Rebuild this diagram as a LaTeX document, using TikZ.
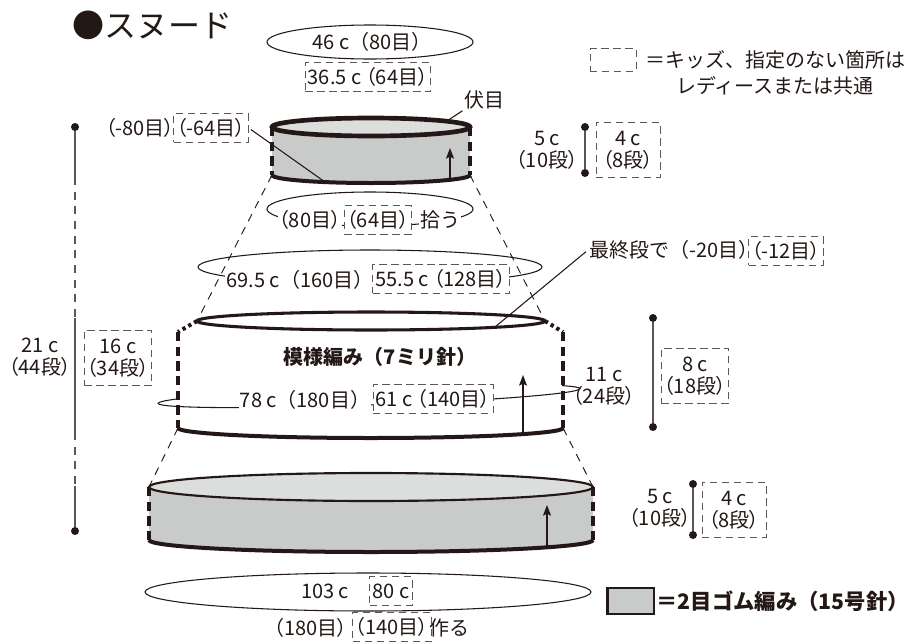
\documentclass[tikz,border=0pt]{standalone}
\usepackage{fontspec}
\setmainfont{Noto Sans CJK JP}
\newfontfamily\jpp[RawFeature=+palt]{Noto Sans CJK JP}
\usetikzlibrary{arrows.meta}
\newcommand\taille{\fontsize{15}{16.5}\selectfont}
\definecolor{encre}{HTML}{231815}
\definecolor{gris}{HTML}{C9CACA}
\definecolor{grisclair}{HTML}{DCDDDD}
\definecolor{grisk}{HTML}{595757}
\definecolor{grisc}{HTML}{595757}
\tikzset{
	etiq/.style = {align=center, inner sep=1pt, text=encre, font=\taille},% texte
	etiq_b/.style = {etiq, fill=white},% texte pose sur un fil
	cote_t/.style = {etiq, font=\jpp\taille},% texte de cote
	kids/.style = {cote_t, draw=grisk, line width=0.75pt,
		dash pattern=on 5.5pt off 3.5pt, inner xsep=2pt, minimum height=21.5pt},% boite kids
	kids2/.style = {kids, minimum width=48pt, minimum height=41.5pt},% boite kids, 2 lignes
	bord/.style = {draw=encre, line width=3pt},% bord epais
	flanc/.style = {draw=encre, line width=3.5pt, dash pattern=on 7pt off 4pt},% cote de bande
	flanc_p/.style = {draw=encre, line width=3pt, dash pattern=on 2.5pt off 2.5pt},% pointilles
	fil/.style = {draw=encre, line width=0.8pt},% trait fin
	guide/.style = {draw=encre, line width=0.7pt, dash pattern=on 6pt off 5pt},% trait de construction
	cote_l/.style = {draw=grisc, line width=1pt},% ligne de cote
	point/.style = {circle, fill=encre, inner sep=0pt, minimum size=6pt}% bout de cote
}

\begin{document}
\begin{tikzpicture}[x=0.75pt, y=-0.75pt, >={Stealth[length=8pt, width=6pt, inset=1.5pt]}]
\useasboundingbox (0,0) rectangle (907,643);
% bande du haut
\coordinate (h-hg) at (272,127); \coordinate (h-hd) at (470,127);
\coordinate (h-bg) at (272,175); \coordinate (h-bd) at (470,175);
\coordinate (h-rab) at (325,182); \coordinate (h-fm) at (447,121);
\coordinate (h-f0) at (450,180); \coordinate (h-f1) at (450,148);
% bande du milieu
\coordinate (m-hg) at (197,321); \coordinate (m-hd) at (545,321);
\coordinate (m-sg) at (178,332); \coordinate (m-sd) at (563,332);
\coordinate (m-bg) at (178,428); \coordinate (m-bd) at (563,428);
\coordinate (m-der) at (495,327);
\coordinate (m-f0) at (523,434); \coordinate (m-f1) at (523,375);
% bande du bas
\coordinate (b-hg) at (149,487); \coordinate (b-hd) at (593,487);
\coordinate (b-bg) at (149,540); \coordinate (b-bd) at (593,540);
\coordinate (b-f0) at (547,547); \coordinate (b-f1) at (547,505);
% cotes
\coordinate (dg2) at (75,177); \coordinate (dg3) at (75,318);
\coordinate (dg4) at (75,432); \coordinate (dg5) at (75,486);

% traits de construction
\draw[guide] (h-bg) -- (m-hg);
\draw[guide] (h-bd) -- (m-hd);
\draw[guide] (m-bg) -- (b-hg);
\draw[guide] (m-bd) -- (b-hd);

% tours
\draw[fil] (370,42) ellipse [x radius=103, y radius=17];
\draw[fil] (370,209) ellipse [x radius=103, y radius=17];
\draw[fil] (370,267) ellipse [x radius=172, y radius=17];
\draw[fil] (368,592) ellipse [x radius=223, y radius=19];

% bande du haut
\fill[gris] (h-hg) -- (h-bg) arc [start angle=180, end angle=0, x radius=99, y radius=8] -- (h-hd) -- cycle;
\draw[flanc] (h-hg) -- (h-bg);
\draw[flanc] (h-hd) -- (h-bd);
\draw[bord] (h-bg) arc [start angle=180, end angle=0, x radius=99, y radius=8];
\draw[bord, line width=3.5pt, fill=grisclair] (371,127) ellipse [x radius=99, y radius=9];

% bande du milieu
\begin{scope}[shift={(369,396)}, rotate=2]
	\draw[fil] (0,0) ellipse [x radius=211, y radius=9];
\end{scope}
\fill[white] (179,333) rectangle (562,429);
\begin{scope}
	\clip (179,333) rectangle (562,429);
	\begin{scope}[shift={(369,396)}, rotate=2]
		\draw[fil] (-211,0) arc [start angle=180, end angle=0, x radius=211, y radius=9];
	\end{scope}
\end{scope}
\draw[flanc_p] (m-hg) -- (m-sg);
\draw[flanc_p] (m-hd) -- (m-sd);
\draw[flanc] (m-sg) -- (m-bg);
\draw[flanc] (m-sd) -- (m-bd);
\draw[bord] (m-bg) arc [start angle=180, end angle=0, x radius=192.5, y radius=10];
\draw[bord, line width=2.3pt] (371,321) ellipse [x radius=174, y radius=9];

% bande du bas
\fill[gris] (b-hg) -- (b-bg) arc [start angle=180, end angle=0, x radius=222, y radius=12] -- (b-hd) -- cycle;
\draw[flanc] (b-hg) -- (b-bg);
\draw[flanc] (b-hd) -- (b-bd);
\draw[bord] (b-bg) arc [start angle=180, end angle=0, x radius=222, y radius=12];
\draw[bord, line width=1.6pt, fill=grisclair] (371,487) ellipse [x radius=222, y radius=14];

% textes
\node[etiq, font=\fontsize{24}{27}\selectfont] (titre) at (152,25) {●スヌード};
\node[etiq] (t46) at (372,42) {46 c（80目）};
\node[kids] (k365) at (368,77) {36.5 c （64目）};
\node[kids, minimum width=34.5pt, minimum height=17pt] (leg_k) at (613,60) {};
\node[etiq, font=\fontsize{15}{19.5}\selectfont] (leg_kt) at (775,73) {＝キッズ、指定のない箇所は\\レディースまたは共通};
\node[etiq] (fuse) at (484,100) {伏目};
\node[cote_t] (m80) at (140,128) {（-80目）};
\node[kids] (m64) at (211,128) {（-64目）};
\node[cote_t] (c5h) at (547,150) {5 c\\（10段）};
\node[kids2] (k4h) at (628,150) {4 c\\（8段）};
\node[etiq_b, font=\jpp\taille] (r80) at (310,220) {（80目）};
\node[kids, fill=white] (r64) at (378,220) {（64目）};
\node[etiq_b] (hiro) at (440,220) {拾う};
\node[etiq_b] (t695) at (300,280) {69.5 c（160目）};
\node[kids, fill=white] (k555) at (441,279) {55.5 c （128目）};
\node[etiq, anchor=west] (der) at (588,250) {最終段で（-20目）};
\node[kids] (k12) at (786,251) {（-12目）};
\node[etiq, font=\bfseries\fontsize{15}{17}\selectfont] (motif) at (380,357) {模様編み（7ミリ針）};
\node[etiq_b] (t78) at (305,400) {78 c（180目）};
\node[kids, fill=white] (k61) at (433,399) {61 c （140目）};
\node[cote_t] (c11) at (604,386) {11 c\\（24段）};
\node[kids2] (k8) at (695,376) {8 c\\（18段）};
\node[cote_t] (c21) at (40,357) {21 c\\（44段）};
\node[kids2] (k16) at (118,358) {16 c\\（34段）};
\node[cote_t] (c5b) at (660,508) {5 c\\（10段）};
\node[kids2] (k4b) at (734,510) {4 c\\（8段）};
\node[etiq] (t103) at (325,591) {103 c};
\node[kids] (k80) at (391,591) {80 c};
\node[cote_t, anchor=east] (t180) at (349,628) {（180目）};
\node[kids, anchor=west] (k140) at (352,627) {（140目）};
\node[etiq, anchor=west] (fait) at (428,628) {作る};
\node[draw=encre, line width=2pt, fill=gris, minimum width=35pt, minimum height=19.5pt,
	inner sep=0pt] (leg_g) at (630.5,601) {};
\node[etiq, anchor=west, font=\bfseries\fontsize{16}{19}\selectfont] (leg_t) at (655,601) {＝2目ゴム編み（15号針）};

% fils de rappel
\draw[fil, shorten <=2pt] (m64.east) -- (h-rab);
\draw[fil] (h-fm) -- (fuse.south west);
\draw[fil, shorten <=2pt] (der.west) -- (m-der);

% sens du tricot
\draw[fil, ->] (h-f0) -- (h-f1);
\draw[fil, ->] (m-f0) -- (m-f1);
\draw[fil, ->] (b-f0) -- (b-f1);

% cotes
\node[point] (dg1) at (75,127) {};
\node[point] (dg6) at (75,531) {};
\draw[cote_l] (dg1) -- (dg2);
\draw[cote_l, dash pattern=on 6pt off 5pt] (dg2) -- (dg3);
\draw[cote_l] (dg3) -- (dg4);
\draw[cote_l, dash pattern=on 6pt off 5pt] (dg4) -- (dg5);
\draw[cote_l] (dg5) -- (dg6);
\node[point] (dh1) at (585,127) {};
\node[point] (dh2) at (585,173) {};
\draw[cote_l] (dh1) -- (dh2);
\node[point] (dm1) at (653,318) {};
\node[point] (dm2) at (653,427) {};
\draw[cote_l] (dm1) -- (dm2);
\node[point] (db1) at (693,484) {};
\node[point] (db2) at (693,535) {};
\draw[cote_l] (db1) -- (db2);
\end{tikzpicture}
\end{document}
